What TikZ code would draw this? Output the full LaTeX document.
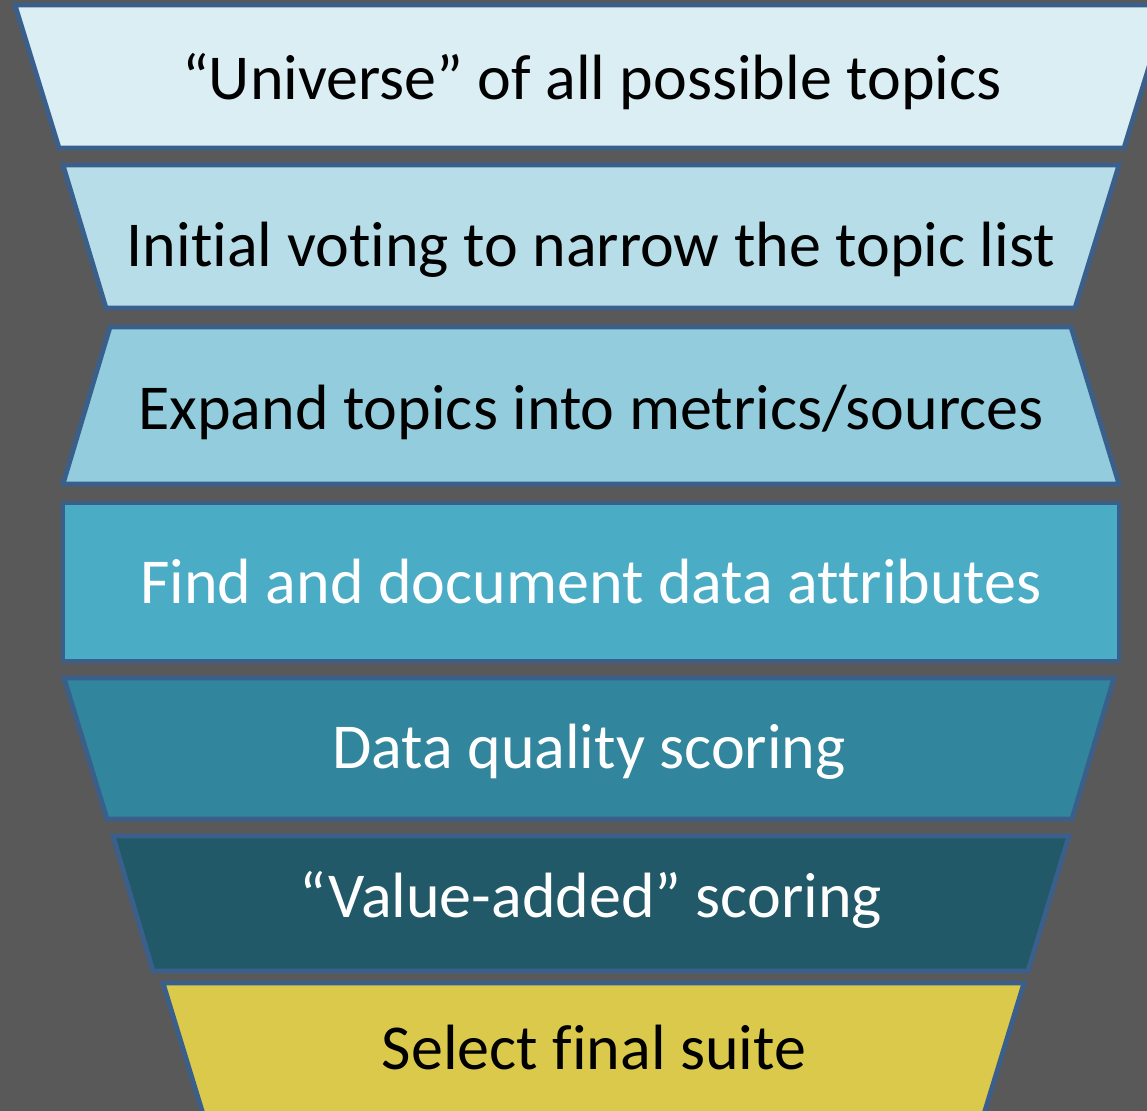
\documentclass[tikz,border=0pt]{standalone}
\usepackage{fontspec}
\setmainfont{Carlito}[Ligatures={TeX,NoCommon}]
\usepackage{xcolor}

\definecolor{frame}{RGB}{58,95,139}
\definecolor{backdrop}{RGB}{89,89,89}
\definecolor{tierA}{RGB}{219,238,244}
\definecolor{tierB}{RGB}{183,222,232}
\definecolor{tierC}{RGB}{147,205,221}
\definecolor{tierD}{RGB}{75,172,198}
\definecolor{tierE}{RGB}{49,133,156}
\definecolor{tierF}{RGB}{33,89,104}
\definecolor{tierG}{RGB}{219,201,75}

\begin{document}
\begin{tikzpicture}[
  x=0.5pt, y=-0.5pt,
  every node/.style={font=\fontsize{32}{38}\selectfont},
  tier/.style={draw=frame, line width=2.4pt, line join=miter},
  tiertext/.style={anchor=base, text=black},
  tierlight/.style={anchor=base, text=white}
]

\fill[backdrop] (0,0) rectangle (1147,1111);
\useasboundingbox (0,0) rectangle (1147,1111);
\clip (0,0) rectangle (1147,1111);

% funnel stages, top to bottom
\draw[tier, fill=tierA] (15,5) -- (1168,5) -- (1124,148) -- (59,148) -- cycle;
\draw[tier, fill=tierB] (63,165) -- (1119,165) -- (1075,308) -- (106,308) -- cycle;
\draw[tier, fill=tierC] (110,327) -- (1071,327) -- (1119,484) -- (63,484) -- cycle;
\draw[tier, fill=tierD] (63,503) rectangle (1119,661);
\draw[tier, fill=tierE] (64,678) -- (1114,678) -- (1072,819) -- (107,819) -- cycle;
\draw[tier, fill=tierF] (113,836) -- (1069,836) -- (1028,971) -- (153,971) -- cycle;
\draw[tier, fill=tierG] (163,983) -- (1024,983) -- (976,1140) -- (211,1140) -- cycle;

\node[tiertext] (universe) at (592,100) {“Universe” of all possible topics};
\node[tiertext] (voting) at (591,267) {Initial voting to narrow the topic list};
\node[tiertext] (expand) at (591,430) {Expand topics into metrics/sources};
\node[tierlight] (attributes) at (591,604) {Find and document data attributes};
\node[tierlight] (quality) at (589,769) {Data quality scoring};
\node[tierlight] (valueadded) at (591,918) {“Value-added” scoring};
\node[tiertext] (suite) at (594,1070) {Select final suite};

\end{tikzpicture}
\end{document}
